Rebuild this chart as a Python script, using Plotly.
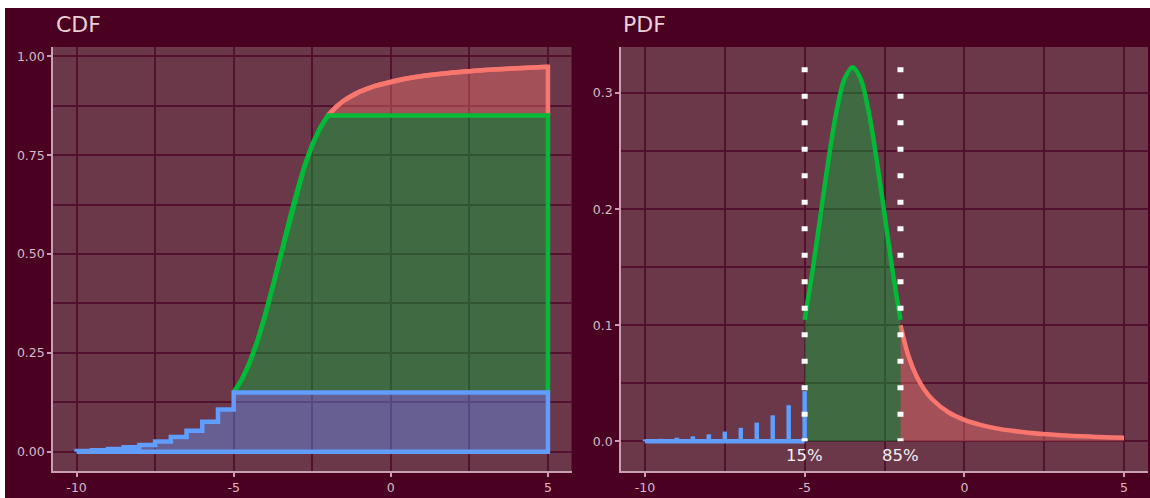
import plotly.graph_objects as go

# ---------------- data ----------------
disc_x = [-10, -9.5, -9, -8.5, -8, -7.5, -7, -6.5, -6, -5.5, -5]
disc_p = [0.0016, 0.0022, 0.0031, 0.0043, 0.0060, 0.0084, 0.0116, 0.0161, 0.0224, 0.0311, 0.0432]
disc_cdf = [0.0016, 0.0038, 0.0069, 0.0112, 0.0172, 0.0256, 0.0372, 0.0533, 0.0757, 0.1068, 0.15]

norm_x = [-5, -4.75, -4.5, -4.25, -4, -3.75, -3.5, -3.25, -3, -2.75, -2.5, -2.25, -2]
norm_pdf = [0.1046, 0.1475, 0.1955, 0.2433, 0.2845, 0.3124, 0.3223, 0.3124, 0.2845, 0.2433, 0.1955, 0.1475, 0.1046]
norm_cdf = [0.15, 0.1814, 0.2243, 0.2791, 0.3453, 0.4203, 0.50, 0.5798, 0.6548, 0.7209, 0.7758, 0.8187, 0.85]

tail_x = [-2, -1.75, -1.5, -1.25, -1, -0.5, 0, 0.5, 1, 1.5, 2, 3, 4, 5]
tail_pdf = [0.1, 0.0735, 0.0563, 0.0444, 0.036, 0.025, 0.0184, 0.0141, 0.0111, 0.009, 0.0074, 0.0053, 0.004, 0.0031]
tail_cdf = [0.85, 0.8714, 0.8875, 0.90, 0.91, 0.925, 0.9357, 0.9438, 0.95, 0.955, 0.9591, 0.9654, 0.97, 0.9735]

q_x = [-5, -2]
q_labels = ["15%", "85%"]
q_top = 0.3223

x_ticks = [-10, -5, 0, 5]
x_ticklabels = ["-10", "-5", "0", "5"]

panel_titles = ["CDF", "PDF"]

# ---------------- style ----------------
W, H = 1150, 498
OUTER = "#4a0020"
PANEL = "#6b384a"
GRID = "#52112e"
AXIS = "#c9a0b2"
TICKTXT = "#d9bac7"
TITLE = "#ead0db"
RED, GREEN, BLUE = "#F8766D", "#00BA38", "#619CFF"
RED_F, GREEN_F, BLUE_F = "rgba(248,118,109,0.4)", "rgba(0,186,56,0.4)", "rgba(97,156,255,0.4)"
FONT = "DejaVu Sans"
LW = 4.5

fig = go.Figure()

# ---------------- CDF panel ----------------
xmax = tail_x[-1]
fig.add_trace(go.Scatter(
    x=tail_x + [xmax], y=tail_cdf + [tail_cdf[0]], fill="toself", fillcolor=RED_F,
    mode="lines", line=dict(color=RED, width=LW), xaxis="x", yaxis="y", hoverinfo="skip"))
fig.add_trace(go.Scatter(
    x=tail_x, y=tail_cdf, mode="lines", line=dict(color=RED, width=LW, shape="spline"),
    xaxis="x", yaxis="y", hoverinfo="skip"))
fig.add_trace(go.Scatter(
    x=norm_x + [xmax, xmax], y=norm_cdf + [norm_cdf[-1], norm_cdf[0]], fill="toself",
    fillcolor=GREEN_F, mode="lines", line=dict(color=GREEN, width=LW), xaxis="x", yaxis="y",
    hoverinfo="skip"))
fig.add_trace(go.Scatter(
    x=norm_x, y=norm_cdf, mode="lines", line=dict(color=GREEN, width=LW, shape="spline"),
    xaxis="x", yaxis="y", hoverinfo="skip"))
fig.add_trace(go.Scatter(
    x=[disc_x[0]] + disc_x + [xmax, xmax, disc_x[0]],
    y=[0] + disc_cdf + [disc_cdf[-1], 0, 0], fill="toself", fillcolor=BLUE_F,
    mode="lines", line=dict(color=BLUE, width=LW, shape="hv"), xaxis="x", yaxis="y",
    hoverinfo="skip"))

# ---------------- PDF panel ----------------
fig.add_trace(go.Scatter(
    x=tail_x, y=tail_pdf, fill="tozeroy", fillcolor=RED_F, mode="lines",
    line=dict(color=RED, width=LW, shape="spline"), xaxis="x2", yaxis="y2", hoverinfo="skip"))
fig.add_trace(go.Scatter(
    x=norm_x, y=norm_pdf, fill="tozeroy", fillcolor=GREEN_F, mode="lines",
    line=dict(color=GREEN, width=LW, shape="spline"), xaxis="x2", yaxis="y2", hoverinfo="skip"))
stem_x, stem_y = [disc_x[0], disc_x[-1], None], [0, 0, None]
for xv, pv in zip(disc_x, disc_p):
    stem_x += [xv, xv, None]
    stem_y += [0, pv, None]
fig.add_trace(go.Scatter(
    x=stem_x, y=stem_y, mode="lines", line=dict(color=BLUE, width=LW), xaxis="x2", yaxis="y2",
    hoverinfo="skip", connectgaps=False))
for xv in q_x:
    fig.add_trace(go.Scatter(
        x=[xv, xv], y=[q_top, 0], mode="lines",
        line=dict(color="white", width=6, dash="5px,21.5px"), xaxis="x2", yaxis="y2",
        hoverinfo="skip"))

# ---------------- layout ----------------
xl = [53 / W, 571.5 / W]
xr = [621 / W, 1148 / W]
yd = [1 - 471 / H, 1 - 47 / H]

def xaxis_cfg(domain, anchor):
    return dict(domain=domain, anchor=anchor, range=[-10.75, 5.75], tickmode="array",
                tickvals=x_ticks, ticktext=x_ticklabels, showgrid=True, gridcolor=GRID, gridwidth=2,
                minor=dict(dtick=2.5, tick0=0, showgrid=True, gridcolor=GRID, gridwidth=1.5),
                zeroline=False, showline=True, linecolor=AXIS, linewidth=1.5,
                ticks="outside", ticklen=4, tickwidth=1.5, tickcolor=AXIS,
                tickfont=dict(family=FONT, size=12.5, color=TICKTXT), fixedrange=True)

def yaxis_cfg(domain, anchor, rng, dtick, minor, fmt):
    return dict(domain=domain, anchor=anchor, range=rng, tickmode="linear", tick0=0, dtick=dtick,
                tickformat=fmt, showgrid=True, gridcolor=GRID, gridwidth=2,
                minor=dict(dtick=minor, showgrid=True, gridcolor=GRID, gridwidth=1.5),
                zeroline=False, showline=True, linecolor=AXIS, linewidth=1.5,
                ticks="outside", ticklen=4, tickwidth=1.5, tickcolor=AXIS,
                tickfont=dict(family=FONT, size=12.5, color=TICKTXT), fixedrange=True)

annotations = [
    dict(text=panel_titles[0], x=54 / W, y=1 - 25 / H, xref="paper", yref="paper",
         xanchor="left", yanchor="middle", showarrow=False,
         font=dict(family=FONT, size=22, color=TITLE)),
    dict(text=panel_titles[1], x=621 / W, y=1 - 25 / H, xref="paper", yref="paper",
         xanchor="left", yanchor="middle", showarrow=False,
         font=dict(family=FONT, size=22, color=TITLE)),
]
for xv, lab in zip(q_x, q_labels):
    annotations.append(dict(text=lab, x=xv, y=-0.012, xref="x2", yref="y2", xanchor="center",
                            yanchor="middle", showarrow=False,
                            font=dict(family=FONT, size=16.5, color="#f4eef1")))

shapes = [
    dict(type="rect", xref="paper", yref="paper", x0=0, x1=1, y0=1 - 8 / H, y1=1,
         fillcolor="white", line=dict(width=0), layer="above"),
    dict(type="rect", xref="paper", yref="paper", x0=0, x1=5 / W, y0=0, y1=1,
         fillcolor="white", line=dict(width=0), layer="above"),
]

fig.update_layout(
    width=W, height=H, margin=dict(l=0, r=0, t=0, b=0), autosize=False,
    paper_bgcolor=OUTER, plot_bgcolor=PANEL, showlegend=False,
    xaxis=xaxis_cfg(xl, "y"),
    yaxis=yaxis_cfg(yd, "x", [-0.0488, 1.0235], 0.25, 0.125, ".2f"),
    xaxis2=xaxis_cfg(xr, "y2"),
    yaxis2=yaxis_cfg(yd, "x2", [-0.0256, 0.3397], 0.1, 0.05, ".1f"),
    annotations=annotations, shapes=shapes,
)

fig.write_html("out.html", config={"displayModeBar": False},
               post_script="document.body.style.margin='0px';document.body.style.overflow='hidden';")
